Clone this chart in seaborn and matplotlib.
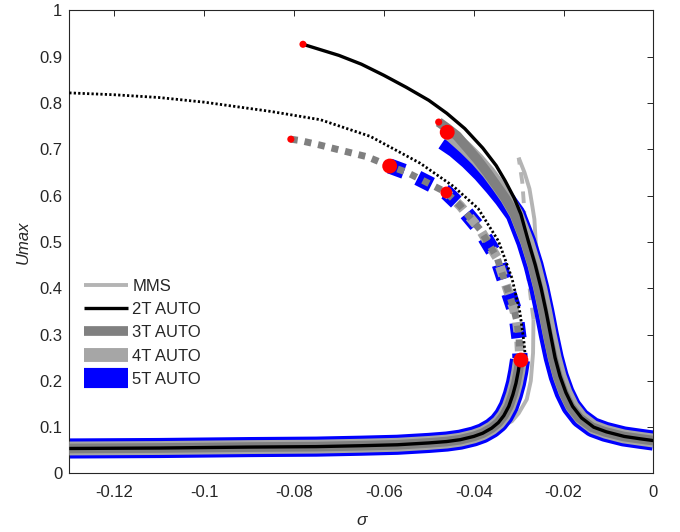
import numpy as np
import matplotlib
matplotlib.use("Agg")
import matplotlib.pyplot as plt
import seaborn as sns
from matplotlib.lines import Line2D
from matplotlib.ticker import FormatStrFormatter

# ---------------- data ----------------
# 2T AUTO stable upper branch
t2_up_x = [-0.0780, -0.0750, -0.0700, -0.0650, -0.0600, -0.0550, -0.0500, -0.0460, -0.0420,
           -0.0380, -0.0350, -0.0330, -0.0310, -0.0295, -0.0278, -0.0263, -0.0250, -0.0239,
           -0.0229, -0.0219, -0.0208, -0.0195, -0.0180, -0.0160, -0.0133, -0.0105, -0.0065,
           -0.0030, 0.0]
t2_up_y = [0.927, 0.918, 0.903, 0.884, 0.860, 0.834, 0.806, 0.778, 0.745,
           0.703, 0.665, 0.632, 0.595, 0.560, 0.500, 0.450, 0.400, 0.350,
           0.300, 0.250, 0.210, 0.175, 0.145, 0.120, 0.100, 0.090, 0.080,
           0.075, 0.071]

# lower (resonance-left) stable branch, shared by the AUTO models
lo_x = [-0.13, -0.11, -0.09, -0.075, -0.065, -0.057, -0.050, -0.046, -0.043, -0.040,
        -0.038, -0.036, -0.0345, -0.0333, -0.0322, -0.0313, -0.0306, -0.0301, -0.0297]
lo_y = [0.054, 0.055, 0.057, 0.058, 0.060, 0.062, 0.066, 0.069, 0.073, 0.080,
        0.087, 0.098, 0.110, 0.125, 0.145, 0.170, 0.195, 0.220, 0.245]

# 3T AUTO stable upper branch
t3_up_x = [-0.0478, -0.0458, -0.0437, -0.0414, -0.0392, -0.0370, -0.0348, -0.0330, -0.0309,
           -0.0285, -0.0269, -0.0256, -0.0245, -0.0235, -0.0224, -0.0213, -0.0200, -0.0185,
           -0.0165, -0.0137, -0.0108, -0.0067, -0.0031, 0.0]
t3_up_y = [0.759, 0.745, 0.729, 0.703, 0.678, 0.650, 0.620, 0.595, 0.560,
           0.500, 0.450, 0.400, 0.350, 0.300, 0.250, 0.210, 0.175, 0.145,
           0.120, 0.100, 0.090, 0.080, 0.075, 0.071]

# 4T AUTO stable upper branch
t4_up_x = [-0.0459, -0.0448, -0.0418, -0.0392, -0.0367, -0.0344, -0.0326, -0.0305, -0.0281,
           -0.0265, -0.0252, -0.0241, -0.0231, -0.0220, -0.0209, -0.0196, -0.0181, -0.0161,
           -0.0134, -0.0106, -0.0066, -0.0030, 0.0]
t4_up_y = [0.737, 0.729, 0.703, 0.678, 0.650, 0.620, 0.595, 0.560, 0.500,
           0.450, 0.400, 0.350, 0.300, 0.250, 0.210, 0.175, 0.145, 0.120,
           0.100, 0.090, 0.080, 0.075, 0.071]

# 5T AUTO stable upper branch
t5_up_x = [-0.0466, -0.0440, -0.0410, -0.0381, -0.0354, -0.0333, -0.0307, -0.0283, -0.0267,
           -0.0254, -0.0243, -0.0233, -0.0222, -0.0211, -0.0198, -0.0183, -0.0163, -0.0135,
           -0.0107, -0.0066, -0.0030, 0.0]
t5_up_y = [0.720, 0.703, 0.678, 0.650, 0.620, 0.595, 0.560, 0.500, 0.450,
           0.400, 0.350, 0.300, 0.250, 0.210, 0.175, 0.145, 0.120, 0.100,
           0.090, 0.080, 0.075, 0.071]

# unstable middle branch (dashed)
un_x = [-0.0807, -0.0786, -0.0745, -0.0704, -0.0637, -0.0587, -0.0548, -0.0489, -0.0461,
        -0.0430, -0.0386, -0.0348, -0.0326, -0.0312, -0.0304, -0.0299, -0.0297]
un_y = [0.722, 0.719, 0.710, 0.700, 0.684, 0.664, 0.650, 0.621, 0.607,
        0.578, 0.527, 0.466, 0.401, 0.360, 0.329, 0.290, 0.250]
un_start_4T = 8   # 4T unstable branch starts at the medium red dot
un_start_5T = 5   # 5T unstable branch starts at the large red dot

# MMS branches
mms_lo_x = [-0.13, -0.10, -0.07, -0.05, -0.040, -0.035, -0.0315, -0.0300, -0.0282, -0.0273,
            -0.0268, -0.0267]
mms_lo_y = [0.052, 0.054, 0.058, 0.065, 0.079, 0.095, 0.113, 0.130, 0.160, 0.200,
            0.260, 0.333]
mms_un_x = [-0.0267, -0.0272, -0.0278, -0.0283, -0.0287, -0.0289, -0.0292, -0.0300]
mms_un_y = [0.333, 0.370, 0.420, 0.480, 0.550, 0.590, 0.630, 0.682]
mms_up_x = [-0.0300, -0.0287, -0.0276, -0.0270, -0.0265, -0.0262, -0.0255, -0.0246, -0.0236,
            -0.0226, -0.0215, -0.0204, -0.0191, -0.0176, -0.0156, -0.0130, -0.0103, -0.0063,
            -0.0029, 0.0]
mms_up_y = [0.682, 0.650, 0.615, 0.580, 0.549, 0.500, 0.450, 0.400, 0.350,
            0.300, 0.250, 0.210, 0.175, 0.145, 0.120, 0.100, 0.090, 0.080,
            0.075, 0.071]

# backbone (dotted)
bb_x = [-0.13, -0.12, -0.11, -0.10, -0.0852, -0.0741, -0.0630, -0.0519, -0.0445, -0.0390,
        -0.0345, -0.0315, -0.0297, -0.0288, -0.0285]
bb_y = [0.822, 0.818, 0.812, 0.802, 0.782, 0.764, 0.728, 0.670, 0.620, 0.572,
        0.502, 0.422, 0.347, 0.282, 0.250]

# bifurcation points (red dots)
sn_small_x = [-0.0780, -0.0807, -0.0478]
sn_small_y = [0.927, 0.722, 0.759]
sn_large_x = [-0.0459, -0.0587, -0.0295]
sn_large_y = [0.737, 0.664, 0.245]
sn_mid_x = [-0.0461]
sn_mid_y = [0.607]

labels = ["MMS", "2T AUTO", "3T AUTO", "4T AUTO", "5T AUTO"]
xticks = [-0.12, -0.1, -0.08, -0.06, -0.04, -0.02, 0]
yticks = [0, 0.1, 0.2, 0.3, 0.4, 0.5, 0.6, 0.7, 0.8, 0.9, 1]

# ---------------- style ----------------
sns.set_style("white")
plt.rcParams['font.family'] = ['Liberation Sans', 'DejaVu Sans']
plt.rcParams['font.size'] = 12

C_MMS = "#b4b4b4"
C_2T = "#000000"
C_3T = "#808080"
C_4T = "#a6a6a6"
C_5T = "#0000ff"
LW = {"MMS": 2.8, "2T": 2.4, "3T": 7.0, "4T": 10.0, "5T": 14.5}

fig = plt.figure(figsize=(6.8, 5.32), dpi=100)
ax = fig.add_axes([0.1019, 0.1100, 0.8591, 0.8703])


def line(x, y, color, lw, z, ls="-"):
    sns.lineplot(x=np.asarray(x), y=np.asarray(y), sort=False, estimator=None,
                 color=color, linewidth=lw, zorder=z, ax=ax, legend=False)
    ln = ax.lines[-1]
    ln.set_linestyle(ls)
    ln.set_dash_capstyle("butt")
    ln.set_solid_capstyle("butt")
    ln.set_solid_joinstyle("round")
    return ln


# MMS (beneath)
line(mms_lo_x, mms_lo_y, C_MMS, LW["MMS"], 1)
line(mms_up_x, mms_up_y, C_MMS, LW["MMS"], 1)
line(mms_un_x, mms_un_y, C_MMS, LW["MMS"], 1, ls=(0, (3, 2)))

# 5T
line(lo_x, lo_y, C_5T, LW["5T"], 2)
line(t5_up_x, t5_up_y, C_5T, LW["5T"], 2)
line(un_x[un_start_5T:], un_y[un_start_5T:], C_5T, 11, 2, ls=(0, (1, 1)))
# 4T
line(lo_x, lo_y, C_4T, LW["4T"], 3)
line(t4_up_x, t4_up_y, C_4T, LW["4T"], 3)
line(un_x[un_start_4T:], un_y[un_start_4T:], C_4T, 7, 3, ls=(0.5, (1, 1)))
# 3T
line(lo_x, lo_y, C_3T, LW["3T"], 4)
line(t3_up_x, t3_up_y, C_3T, LW["3T"], 4)
line(un_x, un_y, C_3T, 5, 4, ls=(0, (1, 1)))
# 2T
line(lo_x, lo_y, C_2T, LW["2T"], 5)
line(t2_up_x, t2_up_y, C_2T, LW["2T"], 5)
# backbone
line(bb_x, bb_y, "#000000", 2.0, 6, ls=(0, (0.8, 0.8)))

# red bifurcation points
sns.scatterplot(x=sn_small_x, y=sn_small_y, s=26, color="#ff0000", edgecolor="none",
                zorder=10, ax=ax, legend=False)
sns.scatterplot(x=sn_mid_x, y=sn_mid_y, s=72, color="#ff0000", edgecolor="none",
                zorder=10, ax=ax, legend=False)
sns.scatterplot(x=sn_large_x, y=sn_large_y, s=115, color="#ff0000", edgecolor="none",
                zorder=10, ax=ax, legend=False)

ax.set_xlim(-0.13, 0)
ax.set_ylim(0, 1)
ax.set_xticks(xticks)
ax.set_yticks(yticks)
ax.xaxis.set_major_formatter(FormatStrFormatter("%g"))
ax.yaxis.set_major_formatter(FormatStrFormatter("%g"))
ax.tick_params(direction="in", top=True, right=True, length=4, width=0.7,
               colors="#262626", labelsize=12)
ax.tick_params(axis="x", pad=8.5)
ax.tick_params(axis="y", pad=5)
for sp in ax.spines.values():
    sp.set_color("#262626")
    sp.set_linewidth(0.8)

ax.set_xlabel("σ", fontsize=12.5, style="italic", color="#262626", labelpad=9)
ax.set_ylabel("Umax", fontsize=12, style="italic", color="#262626", labelpad=6)

handles = [
    Line2D([], [], color=C_MMS, lw=LW["MMS"], solid_capstyle="butt"),
    Line2D([], [], color=C_2T, lw=LW["2T"], solid_capstyle="butt"),
    Line2D([], [], color=C_3T, lw=LW["3T"], solid_capstyle="butt"),
    Line2D([], [], color=C_4T, lw=LW["4T"], solid_capstyle="butt"),
    Line2D([], [], color=C_5T, lw=LW["5T"], solid_capstyle="butt"),
]
ax.legend(handles, labels, loc="upper left", bbox_to_anchor=(0.026, 0.421),
          frameon=False, borderpad=0, borderaxespad=0, handlelength=2.63,
          handletextpad=0.24, labelspacing=0.50, fontsize=12)

fig.savefig("out.png", dpi=100)
